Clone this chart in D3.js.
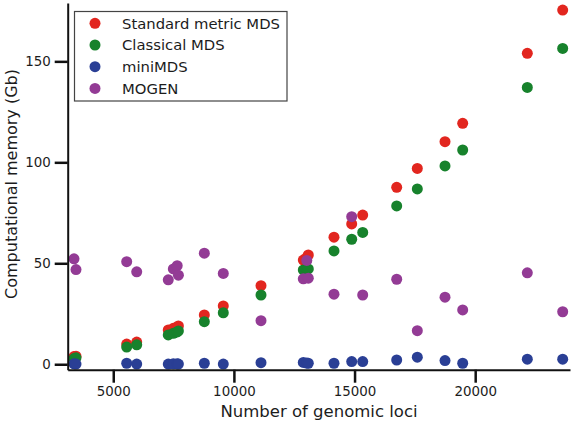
<!DOCTYPE html>
<html><head><meta charset="utf-8">
<script src="https://cdn.jsdelivr.net/npm/d3@7"></script>
<style>
body{margin:0;background:#fff;}
svg{display:block;font-family:"DejaVu Sans",sans-serif;}
</style></head>
<body><svg id="c" width="574" height="424"></svg>
<script>
const loci = [3373,3456,5557,5972,7280,7490,7650,7700,8774,9560,11123,12876,13020,13083,14148,14882,15338,16747,17601,18749,19482,22160,23626];
const standardMDS = [3.8,4.0,10.0,11.0,17.0,17.8,18.5,19.0,24.4,28.9,38.9,51.6,52.8,54.1,62.9,69.5,73.9,87.6,97.0,110.2,119.3,154.0,175.4];
const classicalMDS = [2.8,3.2,8.5,9.6,14.5,15.3,16.0,16.5,21.1,25.5,34.3,46.7,47.0,47.2,56.1,61.9,65.3,78.4,86.8,98.2,106.1,137.1,156.4];
const miniMDS = [0.2,0.1,0.5,0.1,0.1,0.2,0.2,0.1,0.5,0.1,0.8,0.9,0.6,0.5,0.5,1.3,1.3,2.1,3.5,1.8,0.5,2.5,2.5];
const mogen = [52.2,46.9,50.8,45.8,41.8,47.2,48.8,44.1,55.0,45.0,21.6,42.3,51.4,42.6,34.7,73.1,34.3,42.1,16.6,33.2,26.9,45.3,26.0];
const seriesNames = ["Standard metric MDS","Classical MDS","miniMDS","MOGEN"];
const seriesColors = ["#e2261f","#17822c","#2a3f95","#933b95"];
const xTicks = [5000,10000,15000,20000];
const yTicks = [0,50,100,150];

const svg = d3.select("#c");
const x = d3.scaleLinear().domain([3112,23929]).range([67.7,570]);
const y = d3.scaleLinear().domain([-2.7,178.9]).range([369.7,3]);

const allSeries = [standardMDS, classicalMDS, miniMDS, mogen];
allSeries.forEach((vals,i)=>{
  svg.append("g").selectAll("circle").data(loci.map((l,j)=>[l,vals[j]])).join("circle")
    .attr("cx",d=>x(d[0])).attr("cy",d=>y(d[1])).attr("r",5.5)
    .attr("fill",seriesColors[i]);
});

const xa = svg.append("g").attr("transform","translate(0,369.7)")
  .call(d3.axisBottom(x).tickValues(xTicks).tickFormat(d3.format("d")).tickSize(13).tickSizeOuter(0).tickPadding(4));
const ya = svg.append("g").attr("transform","translate(67.7,0)")
  .call(d3.axisLeft(y).tickValues(yTicks).tickFormat(d3.format("d")).tickSize(13).tickSizeOuter(0).tickPadding(4));
[xa,ya].forEach(a=>{
  a.select(".domain").attr("stroke","#111").attr("stroke-width",2);
  a.selectAll(".tick line").attr("stroke","#111").attr("stroke-width",2.5);
  a.selectAll(".tick text").attr("fill","#1c1c1c").style("font-size","13.4px").style("font-family","DejaVu Sans");
});

svg.append("text").attr("x",319).attr("y",417).attr("text-anchor","middle")
  .attr("fill","#1c1c1c").style("font-size","16.5px").text("Number of genomic loci");
svg.append("text").attr("transform","translate(17,184) rotate(-90)").attr("text-anchor","middle")
  .attr("fill","#1c1c1c").style("font-size","16px").text("Computational memory (Gb)");

const lg = svg.append("g");
lg.append("rect").attr("x",74.5).attr("y",11.5).attr("width",212.5).attr("height",89.5)
  .attr("fill","#fff").attr("stroke","#444").attr("stroke-width",1.2);
seriesNames.forEach((n,i)=>{
  const cy = 23.3 + i*21.7;
  lg.append("circle").attr("cx",95).attr("cy",cy).attr("r",5.5).attr("fill",seriesColors[i]);
  lg.append("text").attr("x",122).attr("y",cy).attr("dy","0.36em").attr("fill","#1c1c1c")
    .style("font-size","14.8px").text(n);
});
</script></body></html>
